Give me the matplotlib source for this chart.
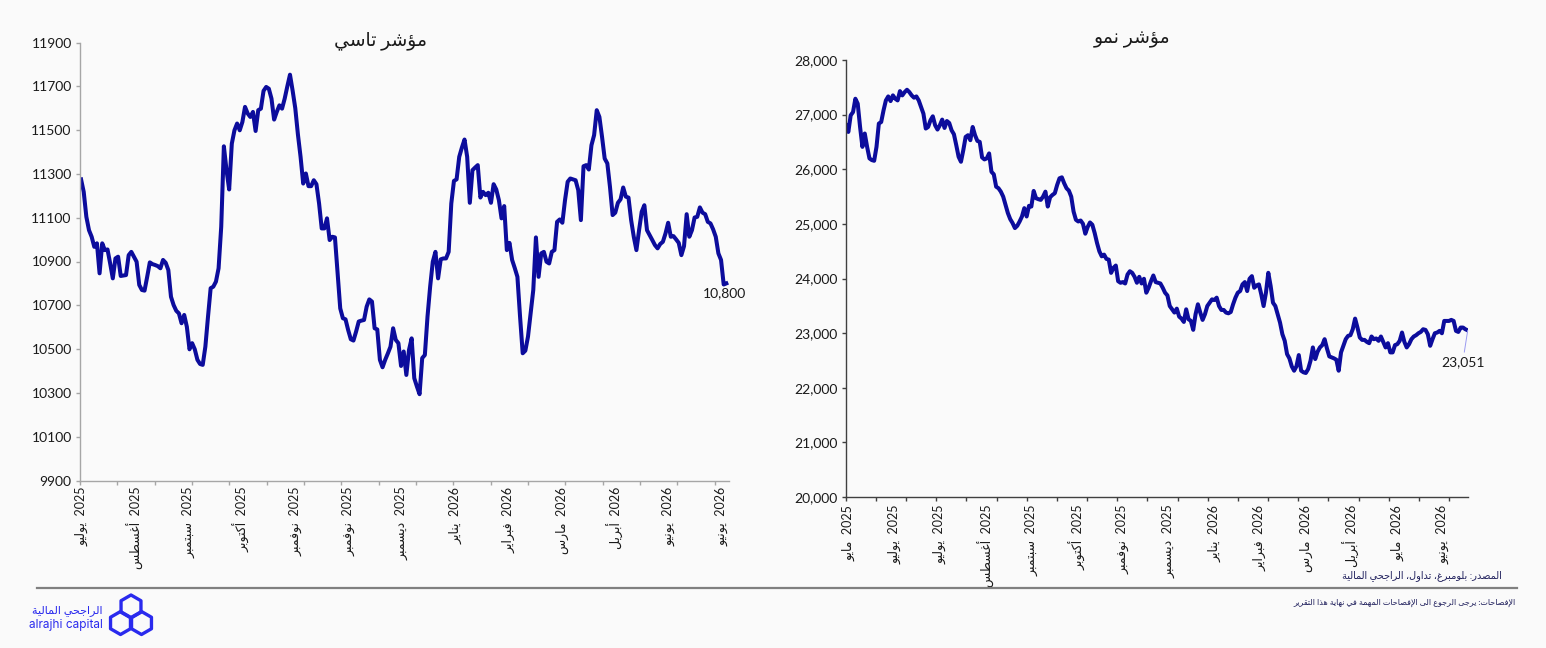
import numpy as np
import matplotlib
matplotlib.use("Agg")
import matplotlib.pyplot as plt
from matplotlib.lines import Line2D
from matplotlib.patches import RegularPolygon
from matplotlib.ticker import StrMethodFormatter

plt.rcParams['font.family'] = ['Lato', 'DejaVu Sans']

########################################################################
# Arabic shaping (matplotlib has no bidi / joining of its own)

FORMS = {
    '\u0621': (0xFE80, 1), '\u0622': (0xFE81, 2), '\u0623': (0xFE83, 2),
    '\u0624': (0xFE85, 2), '\u0625': (0xFE87, 2), '\u0626': (0xFE89, 4),
    '\u0627': (0xFE8D, 2), '\u0628': (0xFE8F, 4), '\u0629': (0xFE93, 2),
    '\u062A': (0xFE95, 4), '\u062B': (0xFE99, 4), '\u062C': (0xFE9D, 4),
    '\u062D': (0xFEA1, 4), '\u062E': (0xFEA5, 4), '\u062F': (0xFEA9, 2),
    '\u0630': (0xFEAB, 2), '\u0631': (0xFEAD, 2), '\u0632': (0xFEAF, 2),
    '\u0633': (0xFEB1, 4), '\u0634': (0xFEB5, 4), '\u0635': (0xFEB9, 4),
    '\u0636': (0xFEBD, 4), '\u0637': (0xFEC1, 4), '\u0638': (0xFEC5, 4),
    '\u0639': (0xFEC9, 4), '\u063A': (0xFECD, 4), '\u0641': (0xFED1, 4),
    '\u0642': (0xFED5, 4), '\u0643': (0xFED9, 4), '\u0644': (0xFEDD, 4),
    '\u0645': (0xFEE1, 4), '\u0646': (0xFEE5, 4), '\u0647': (0xFEE9, 4),
    '\u0648': (0xFEED, 2), '\u0649': (0xFEEF, 2), '\u064A': (0xFEF1, 4),
}
LAM_ALEF = {'\u0622': 0xFEF5, '\u0623': 0xFEF7, '\u0625': 0xFEF9, '\u0627': 0xFEFB}


def shape(text):
    toks = []
    i = 0
    while i < len(text):
        c = text[i]
        if c == '\u0644' and i + 1 < len(text) and text[i + 1] in LAM_ALEF:
            toks.append(('LA', text[i + 1]))
            i += 2
        else:
            toks.append((c, None))
            i += 1

    def is_letter(t):
        return t[0] == 'LA' or t[0] in FORMS

    def joins_fwd(t):
        return t[0] in FORMS and FORMS[t[0]][1] == 4

    out = []
    for j, t in enumerate(toks):
        prev = j > 0 and joins_fwd(toks[j - 1])
        if t[0] == 'LA':
            out.append(chr(LAM_ALEF[t[1]] + (1 if prev else 0)))
        elif t[0] in FORMS:
            base, n = FORMS[t[0]]
            nxt = n == 4 and j + 1 < len(toks) and is_letter(toks[j + 1])
            if n == 1:
                out.append(chr(base))
            elif n == 2:
                out.append(chr(base + (1 if prev else 0)))
            else:
                form = 3 if (prev and nxt) else 1 if prev else 2 if nxt else 0
                out.append(chr(base + form))
        else:
            out.append(t[0])
    return ''.join(out)


def ar(text):
    return shape(text)[::-1]


########################################################################
# Data

tasi = [
    11275, 11218, 11104, 11043, 11013, 10967, 10983, 10846, 10983, 10952,
    10955, 10891, 10823, 10914, 10922, 10834, 10836, 10838, 10929, 10944,
    10922, 10899, 10793, 10770, 10767, 10830, 10896, 10888, 10884, 10879,
    10869, 10907, 10894, 10861, 10739, 10701, 10675, 10663, 10618, 10656,
    10602, 10499, 10527, 10499, 10451, 10432, 10428, 10511, 10648, 10778,
    10785, 10808, 10869, 11059, 11426, 11317, 11229, 11438, 11499, 11530,
    11499, 11537, 11606, 11576, 11560, 11583, 11496, 11591, 11598, 11679,
    11697, 11689, 11644, 11548, 11583, 11613, 11598, 11644, 11700, 11753,
    11680, 11600, 11480, 11378, 11256,
    11302, 11244, 11244, 11271, 11253, 11165, 11051, 11051, 11097, 10998,
    11013, 11010, 10846, 10686, 10641, 10636, 10587, 10545, 10539, 10580,
    10626, 10630, 10633, 10694, 10727, 10717, 10595, 10590, 10451, 10417,
    10451, 10480, 10511, 10595, 10542, 10527, 10423, 10489, 10382, 10496,
    10549, 10367, 10329, 10294, 10459, 10473, 10648, 10785, 10899, 10944,
    10823, 10910, 10914, 10914, 10944, 11165, 11268, 11275, 11378, 11420,
    11457, 11378, 11168, 11317, 11329, 11340, 11192, 11218, 11203, 11214,
    11168, 11253, 11229, 11180, 11097, 11153, 10952, 10985, 10907,
    10870, 10830, 10648, 10481, 10493, 10557, 10663, 10770, 11010, 10830,
    10937, 10944, 10899, 10891, 10944, 10952, 11081, 11092, 11077, 11180,
    11264, 11279, 11275, 11271, 11226, 11089, 11335, 11340, 11320, 11431,
    11477, 11591, 11560, 11469, 11370, 11348, 11241, 11112, 11123, 11168,
    11184, 11238, 11196, 11192, 11089, 11013, 10952, 11043, 11127, 11157,
    11043, 11021, 10998, 10975, 10960, 10980, 10990, 11028, 11077, 11013,
    11016, 11001, 10985, 10929, 10970, 11116, 11013, 11043, 11101, 11104,
    11147, 11123, 11116, 11081, 11074, 11047, 11013, 10937, 10907, 10795,
    10800,
]

nomu = [
    26805, 26683, 26987, 27047, 27291, 27200, 26774, 26410, 26654, 26410,
    26199, 26168, 26155, 26410, 26836, 26865, 27078, 27260, 27333, 27248,
    27352, 27291, 27260, 27430, 27352, 27412, 27455, 27412, 27352, 27310,
    27333, 27260, 27138, 27018, 26745, 26774, 26896, 26969, 26805, 26727,
    26805, 26909, 26756, 26883, 26847, 26714, 26641, 26441, 26228, 26137,
    26350, 26592, 26623, 26532, 26774, 26623, 26519, 26501, 26217, 26180,
    26199, 26290, 25954, 25907, 25681, 25652, 25590, 25499, 25348, 25197,
    25087, 25015, 24923, 24965, 25044, 25135, 25288, 25135, 25330, 25317,
    25603, 25470, 25452, 25439, 25499, 25590, 25317, 25488, 25530, 25561,
    25712, 25834,
    25852, 25743, 25652, 25608, 25499, 25226, 25075, 25044, 25062, 25002,
    24820, 24942, 25026, 24984, 24832, 24650, 24497, 24406, 24437, 24359,
    24346, 24103, 24195, 24237, 23951, 23922, 23934, 23909, 24073, 24133,
    24103, 24031, 23922, 24031, 23909, 23995, 23740, 23831, 23951, 24055,
    23934, 23922, 23909, 23831, 23740, 23690, 23496, 23436, 23376, 23448,
    23302, 23266, 23205, 23436, 23254, 23224, 23060, 23346, 23528, 23376,
    23242, 23346, 23496, 23557, 23618, 23606, 23649, 23496, 23424, 23424,
    23376, 23363, 23387, 23528, 23649, 23740, 23770, 23892, 23934, 23770,
    23995, 24043, 23831, 23873, 23892,
    23710, 23496, 23740, 24104, 23862, 23557, 23496, 23346, 23193, 22980,
    22859, 22616, 22538, 22392, 22312, 22392, 22598, 22312, 22283, 22270,
    22343, 22494, 22738, 22525, 22658, 22738, 22780, 22889, 22720, 22574,
    22556, 22538, 22513, 22312, 22647, 22768, 22889, 22950, 22962, 23071,
    23266, 23102, 22920, 22876, 22876, 22840, 22816, 22938, 22889, 22902,
    22859, 22938, 22840, 22738, 22816, 22647, 22647, 22780, 22798, 22859,
    23011, 22840, 22738, 22798, 22889, 22938, 22962, 22998, 23022, 23071,
    23059, 22980, 22768, 22889, 22998, 23011, 23041, 22998, 23223, 23223,
    23223, 23242, 23223, 23041, 23022, 23102, 23102, 23071, 23051,
]

# samples spread over the trading days of each period
tasi_days = np.linspace(0, 242, len(tasi))
nomu_days = np.linspace(0, 272, len(nomu))

tasi_months = ['يوليو', 'أغسطس', 'سبتمبر', 'أكتوبر', 'نوفمبر', 'نوفمبر', 'ديسمبر',
               'يناير', 'فبراير', 'مارس', 'أبريل', 'يونيو', 'يونيو']
tasi_years = ['2025'] * 7 + ['2026'] * 6
nomu_months = ['مايو', 'يوليو', 'يوليو', 'أغسطس', 'سبتمبر', 'أكتوبر', 'نوفمبر',
               'ديسمبر', 'يناير', 'فبراير', 'مارس', 'أبريل', 'مايو', 'يونيو']
nomu_years = ['2025'] * 8 + ['2026'] * 6

tasi_title = 'مؤشر تاسي'
nomu_title = 'مؤشر نمو'
source_note = 'المصدر: بلومبرغ، تداول، الراجحي المالية'
disclosure = 'الإفصاحات: يرجى الرجوع الى الإفصاحات المهمة في نهاية هذا التقرير'

########################################################################
# Figure

W, H = 1546, 648
BG = '#fafafa'
LINE = '#0c0c9c'
TXT = '#1a1a1a'

fig = plt.figure(figsize=(W / 100, H / 100), dpi=100, facecolor=BG)


def px_axes(x0, x1, ytop, ybot):
    ax = fig.add_axes([x0 / W, 1 - ybot / H, (x1 - x0) / W, (ybot - ytop) / H])
    ax.set_facecolor(BG)
    for s in ('top', 'right'):
        ax.spines[s].set_visible(False)
    return ax


def month_labels(months, years):
    return [ar(m) + '  ' + y for m, y in zip(months, years)]


def style_axes(ax, spine_col, label_pos, labels, minor_pos, pad):
    for s in ('left', 'bottom'):
        ax.spines[s].set_color(spine_col)
        ax.spines[s].set_linewidth(1.0)
    ax.set_xticks(label_pos, labels, rotation=90)
    ax.set_xticks(minor_pos, minor=True)
    ax.tick_params(axis='x', which='major', length=0, pad=pad, labelsize=9, labelcolor=TXT)
    ax.tick_params(axis='x', which='minor', length=3, color=spine_col, width=1.0)
    ax.tick_params(axis='y', length=3, color=spine_col, width=1.0, labelsize=10,
                   labelcolor=TXT, pad=3)


# ---- left: TASI
ax1 = px_axes(80, 729, 42.5, 480.5)
ax1.plot(tasi_days, tasi, color=LINE, lw=2.9, solid_joinstyle='round')
ax1.set_xlim(-0.4, 243)
ax1.set_ylim(9900, 11900)
ax1.set_yticks(np.arange(9900, 11901, 200))
style_axes(ax1, '#a6a6a6', 0.5 + 20 * np.arange(len(tasi_months)),
           month_labels(tasi_months, tasi_years), -0.4 + 14 * np.arange(18), 4.5)
ax1.annotate(f'{tasi[-1]:,}', xy=(tasi_days[-1], tasi[-1]), xytext=(-2, -10),
             textcoords='offset pixels', ha='center', va='center', fontsize=10, color=TXT)

# ---- right: NOMU
ax2 = px_axes(845.7, 1468.4, 60, 497)
ax2.plot(nomu_days, nomu, color=LINE, lw=2.9, solid_joinstyle='round')
ax2.set_xlim(-0.13, 272.3)
ax2.set_ylim(20000, 28000)
ax2.set_yticks(np.arange(20000, 28001, 1000))
ax2.yaxis.set_major_formatter(StrMethodFormatter('{x:,.0f}'))
style_axes(ax2, '#404040', 1.3 + 20 * np.arange(len(nomu_months)),
           month_labels(nomu_months, nomu_years), -0.13 + 13.2 * np.arange(21), 5.5)
ax2.annotate(f'{nomu[-1]:,}', xy=(nomu_days[-1], nomu[-1]), xytext=(-5, -32),
             textcoords='offset pixels', ha='center', va='center', fontsize=10, color=TXT,
             arrowprops=dict(arrowstyle='-', color='#9a9af0', lw=0.7, shrinkA=1, shrinkB=0))

# ---- titles
fig.text(380 / W, 1 - 41 / H, ar(tasi_title), ha='center', va='center', fontsize=13.5, color=TXT)
fig.text(1132 / W, 1 - 40 / H, ar(nomu_title), ha='center', va='center', fontsize=13.5, color=TXT)

# ---- footer
fig.add_artist(Line2D([37 / W, 1517 / W], [1 - 588 / H] * 2, color='#808080', lw=1.6))
fig.text(1502 / W, 1 - 576 / H, ar(source_note), ha='right', va='center',
         fontsize=7, color='#1f1f5c')
fig.text(1516 / W, 1 - 603 / H, ar(disclosure), ha='right', va='center',
         fontsize=5.8, color='#1f1f5c')

# ---- logo
LOGO = '#2a2aee'
fig.text(103 / W, 1 - 611 / H, ar('الراجحي المالية'), ha='right', va='center',
         fontsize=8, color=LOGO)
fig.text(103 / W, 1 - 625 / H, 'alrajhi capital', ha='right', va='center',
         fontsize=8.5, color=LOGO, family=['Inter', 'DejaVu Sans'])
lax = fig.add_axes([107 / W, 1 - 638 / H, 48 / W, 46 / H])
lax.set_xlim(107, 155)
lax.set_ylim(638, 592)
lax.set_aspect('equal')
lax.axis('off')
for cx, cy in ((131, 606.5), (120.5, 623), (141.5, 623)):
    lax.add_patch(RegularPolygon((cx, cy), 6, radius=11.5, orientation=0, fill=False,
                                 ec=LOGO, lw=2.4, joinstyle='round'))

fig.savefig('out.png', dpi=100, facecolor=BG)
